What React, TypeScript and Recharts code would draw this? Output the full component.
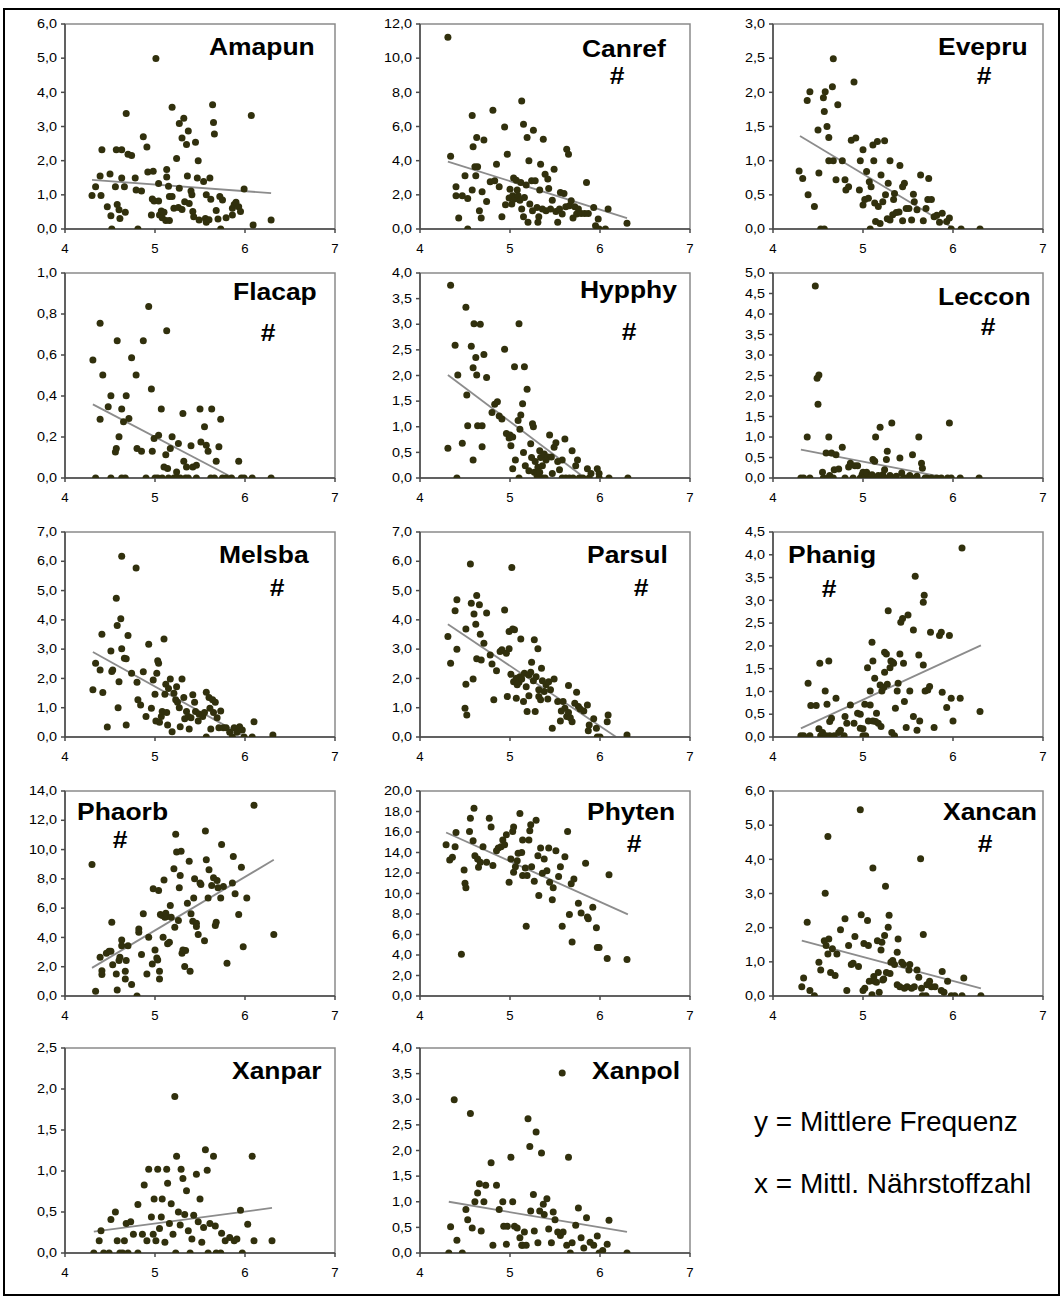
import React from 'react';
import { ScatterChart, Scatter, XAxis, YAxis, ReferenceArea, ReferenceLine } from 'recharts';

const X_TICKS = [4, 5, 6, 7];

// mean frequency (y) against mean nutrient value (x), one list per species
const amapun = [[4.30,0.98],[4.34,1.24],[4.39,1.55],[4.40,0.98],[4.41,2.32],[4.47,0.65],[4.50,1.61],[4.51,0.39],[4.52,0],[4.56,1.24],[4.57,2.32],[4.58,0.72],[4.60,0.56],[4.61,0.31],[4.63,2.32],[4.63,1.49],[4.66,1.24],[4.67,0.49],[4.68,3.38],[4.70,2.19],[4.74,2.15],[4.78,1.49],[4.79,1.14],[4.81,0],[4.85,1.11],[4.87,2.70],[4.91,2.40],[4.92,1.67],[4.96,0.41],[4.97,0.88],[4.98,1.69],[4.99,0.82],[5.01,4.99],[5.04,0.82],[5.04,1.33],[5.05,0.41],[5.07,0.53],[5.08,0.33],[5.10,0.49],[5.12,0.25],[5.13,1.74],[5.13,1.52],[5.15,1.25],[5.16,0.95],[5.16,0.25],[5.19,0.95],[5.19,3.56],[5.21,0.61],[5.24,2.06],[5.26,0.63],[5.27,1.19],[5.27,3.09],[5.30,0.57],[5.30,2.66],[5.32,3.24],[5.33,0.80],[5.35,2.47],[5.36,1.55],[5.37,2.87],[5.38,0.75],[5.40,1.11],[5.41,1.00],[5.42,0.51],[5.43,0.36],[5.45,2.54],[5.47,1.49],[5.48,2.00],[5.49,0.26],[5.54,1.39],[5.56,0.31],[5.57,0.20],[5.57,1.00],[5.60,0.27],[5.61,1.49],[5.62,0.87],[5.64,3.64],[5.65,3.12],[5.66,2.78],[5.68,0.54],[5.70,0.29],[5.72,0.95],[5.73,0],[5.75,0.85],[5.79,0.33],[5.86,0.41],[5.86,0.61],[5.88,0.72],[5.90,0.78],[5.93,0.65],[5.95,0.51],[5.99,1.17],[6.07,3.32],[6.09,0.12],[6.29,0.26]];
const amapunTrend = [[4.30,1.44],[6.29,1.05]];

const canref = [[4.31,11.23],[4.34,4.26],[4.40,2.47],[4.40,1.95],[4.43,0.64],[4.47,1.95],[4.50,3.11],[4.53,1.79],[4.53,0],[4.58,2.28],[4.58,6.65],[4.59,4.81],[4.61,3.64],[4.62,3.11],[4.63,5.35],[4.64,3.64],[4.66,1.07],[4.68,0.64],[4.69,2.18],[4.71,5.21],[4.74,1.61],[4.78,2.76],[4.81,6.95],[4.83,2.82],[4.85,3.79],[4.88,2.47],[4.91,0.72],[4.95,1.42],[4.94,5.97],[4.97,4.38],[4.99,1.81],[5.00,2.33],[5.02,1.46],[5.03,1.95],[5.04,2.98],[5.05,1.75],[5.07,2.86],[5.08,2.28],[5.09,1.95],[5.11,1.69],[5.12,2.72],[5.13,7.49],[5.13,1.17],[5.15,0.72],[5.15,6.13],[5.16,1.85],[5.18,2.57],[5.19,5.35],[5.20,0.39],[5.21,3.99],[5.22,1.46],[5.24,2.82],[5.25,1.07],[5.26,5.78],[5.28,2.82],[5.30,1.26],[5.31,0.39],[5.32,0.72],[5.33,2.28],[5.34,3.79],[5.36,1.17],[5.37,5.25],[5.39,3.21],[5.40,1.07],[5.42,2.92],[5.43,2.37],[5.45,1.17],[5.47,1.69],[5.49,3.50],[5.51,1.03],[5.53,0.39],[5.55,1.17],[5.56,2.14],[5.58,0.88],[5.60,2.08],[5.62,1.30],[5.63,4.67],[5.65,4.38],[5.66,1.36],[5.68,1.65],[5.70,0.64],[5.72,1.30],[5.74,0.88],[5.76,1.17],[5.79,0.91],[5.83,0.91],[5.85,2.72],[5.87,0.91],[5.93,1.26],[5.95,0.19],[5.98,0.58],[5.99,0],[6.06,0],[6.09,1.17],[6.30,0.33]];
const canrefTrend = [[4.31,3.95],[6.30,0.64]];

const evepru = [[4.29,0.85],[4.33,0.74],[4.38,1.88],[4.39,0.50],[4.41,2.01],[4.46,0.33],[4.50,1.45],[4.51,0.82],[4.53,0],[4.56,1.92],[4.57,0],[4.57,1.72],[4.58,2.01],[4.60,1.50],[4.62,1.34],[4.62,1.00],[4.66,2.08],[4.67,2.49],[4.67,1.00],[4.70,0.72],[4.72,1.82],[4.77,1.00],[4.80,0.72],[4.81,0.57],[4.84,0.62],[4.87,1.30],[4.90,2.15],[4.92,1.33],[4.96,0.57],[4.97,1.00],[5.00,1.16],[5.00,0.35],[5.02,0.43],[5.04,0.84],[5.06,0.45],[5.07,0.69],[5.08,0],[5.09,0.62],[5.11,1.23],[5.12,1.00],[5.13,0.38],[5.14,0.11],[5.16,1.28],[5.17,0.33],[5.19,0.08],[5.20,0.79],[5.22,0.40],[5.24,1.29],[5.25,0.50],[5.27,0.15],[5.28,0.67],[5.30,1.00],[5.30,0.13],[5.33,0.21],[5.34,0.43],[5.35,0.52],[5.37,0.24],[5.40,0.25],[5.41,0.93],[5.44,0.62],[5.44,0.12],[5.46,0.67],[5.48,0.30],[5.51,0.30],[5.54,0.13],[5.56,0.51],[5.57,0.40],[5.60,0.28],[5.64,0.79],[5.67,0.12],[5.70,0.30],[5.72,0.43],[5.73,0.74],[5.76,0.43],[5.79,0.18],[5.82,0.20],[5.85,0.10],[5.88,0.23],[5.93,0.11],[5.96,0.16],[5.98,0],[6.09,0],[6.30,0]];
const evepruTrend = [[4.30,1.36],[5.98,0.03]];

const flacap = [[4.31,0.576],[4.34,0],[4.39,0.755],[4.39,0.287],[4.42,0.502],[4.48,0.347],[4.51,0.401],[4.51,0],[4.56,0.127],[4.57,0.144],[4.58,0.669],[4.60,0.201],[4.63,0.336],[4.63,0],[4.65,0.274],[4.67,0],[4.68,0.401],[4.71,0.290],[4.74,0.587],[4.79,0.502],[4.80,0.144],[4.85,0.131],[4.87,0.669],[4.90,0],[4.93,0.837],[4.96,0.434],[4.97,0.131],[4.99,0.193],[5.00,0],[5.03,0],[5.04,0.209],[5.07,0.336],[5.08,0],[5.10,0.054],[5.12,0.114],[5.13,0.718],[5.14,0.046],[5.15,0],[5.17,0.144],[5.19,0.201],[5.21,0],[5.24,0.029],[5.25,0],[5.26,0.168],[5.28,0],[5.31,0.315],[5.32,0.082],[5.34,0],[5.35,0.054],[5.37,0],[5.40,0.157],[5.42,0.054],[5.46,0],[5.46,0.062],[5.50,0.336],[5.51,0.176],[5.55,0.250],[5.57,0.160],[5.59,0.131],[5.62,0],[5.63,0.336],[5.66,0],[5.68,0.082],[5.71,0.152],[5.73,0.287],[5.75,0],[5.79,0],[5.85,0],[5.93,0.082],[5.96,0],[5.99,0],[6.08,0],[6.29,0]];
const flacapTrend = [[4.31,0.359],[5.85,0.005]];

const hypphy = [[4.31,0.58],[4.34,3.76],[4.39,2.59],[4.41,0],[4.42,2.01],[4.47,0.68],[4.51,3.33],[4.52,1.62],[4.53,1.02],[4.57,2.57],[4.59,2.15],[4.59,0.35],[4.60,3.01],[4.62,2.35],[4.63,2.01],[4.64,1.02],[4.67,3.00],[4.69,1.02],[4.69,0.61],[4.71,2.41],[4.74,1.96],[4.80,1.28],[4.83,1.44],[4.86,1.49],[4.88,1.21],[4.91,1.15],[4.94,2.51],[4.96,0.87],[4.99,0.78],[5.00,0.84],[5.01,0.63],[5.03,0.80],[5.03,0.18],[5.05,2.17],[5.06,0.35],[5.09,1.12],[5.10,0],[5.10,3.01],[5.11,0.95],[5.12,1.23],[5.14,1.45],[5.15,0.50],[5.16,2.17],[5.17,0.24],[5.19,1.73],[5.21,0.14],[5.23,0.67],[5.24,0.40],[5.25,1.06],[5.26,1.00],[5.27,0.11],[5.28,0.32],[5.30,0.05],[5.31,0.21],[5.32,0],[5.33,0.53],[5.33,0.11],[5.34,0.40],[5.36,0],[5.36,0.24],[5.38,0.47],[5.39,0],[5.40,0.35],[5.42,0.41],[5.44,0.84],[5.46,0.41],[5.47,0.09],[5.49,0.60],[5.51,0.69],[5.53,0.32],[5.55,0.16],[5.58,0.35],[5.58,0],[5.61,0.76],[5.62,0],[5.66,0],[5.69,0.53],[5.70,0],[5.73,0.24],[5.75,0.35],[5.77,0],[5.81,0],[5.86,0.18],[5.88,0],[5.90,0.09],[5.97,0.18],[5.99,0.09],[5.99,0],[6.10,0],[6.31,0]];
const hypphyTrend = [[4.31,2.01],[5.81,0.03]];

const leccon = [[4.31,0],[4.34,0],[4.38,1.00],[4.41,0],[4.47,4.68],[4.49,2.43],[4.50,1.80],[4.51,2.51],[4.55,0.14],[4.56,0],[4.59,0.61],[4.61,0],[4.62,1.00],[4.63,0.06],[4.65,0.61],[4.67,0],[4.68,0.20],[4.70,0.57],[4.73,0.22],[4.77,0.75],[4.80,0],[4.84,0.27],[4.86,0.36],[4.89,0],[4.91,0.30],[4.94,0.30],[4.97,0],[4.99,0.08],[5.00,0.14],[5.02,0],[5.04,0.14],[5.06,0.06],[5.08,0],[5.10,0.08],[5.11,0.45],[5.13,0.41],[5.14,1.00],[5.16,0],[5.17,0.06],[5.19,1.24],[5.21,0],[5.22,0.08],[5.24,0.20],[5.26,0.45],[5.27,0.65],[5.28,0],[5.30,0.06],[5.32,1.34],[5.34,0],[5.37,0.04],[5.41,0.49],[5.43,0.12],[5.45,0],[5.48,0],[5.52,0.06],[5.55,0.57],[5.58,0],[5.60,0.04],[5.62,1.00],[5.65,0.36],[5.66,0.24],[5.69,0],[5.71,0],[5.76,0],[5.82,0],[5.87,0],[5.94,0],[5.96,1.34],[5.98,0],[6.08,0],[6.29,0]];
const lecconTrend = [[4.31,0.69],[5.85,0.04]];

const melsba = [[4.31,1.61],[4.34,2.52],[4.39,2.29],[4.41,3.51],[4.42,1.52],[4.47,0.34],[4.51,2.94],[4.52,2.24],[4.53,2.29],[4.57,4.74],[4.58,3.81],[4.59,1.00],[4.60,1.89],[4.62,4.04],[4.63,6.17],[4.63,3.01],[4.66,2.69],[4.68,2.67],[4.68,0.41],[4.70,3.47],[4.74,2.18],[4.79,5.77],[4.80,1.87],[4.81,1.27],[4.84,1.09],[4.87,2.23],[4.90,0.70],[4.93,3.17],[4.96,0.98],[4.98,1.95],[5.00,1.46],[5.01,0.55],[5.02,2.18],[5.03,2.60],[5.04,2.52],[5.05,0.50],[5.07,0.70],[5.08,0.87],[5.10,3.35],[5.11,1.46],[5.12,1.80],[5.13,0.84],[5.14,0.41],[5.15,1.66],[5.17,1.98],[5.19,0.18],[5.21,1.49],[5.23,1.27],[5.24,1.72],[5.25,1.19],[5.27,1.00],[5.28,0.35],[5.30,1.98],[5.32,1.35],[5.33,0.62],[5.35,0.87],[5.37,0.70],[5.38,0.27],[5.40,0.66],[5.42,1.44],[5.44,1.19],[5.45,0.87],[5.48,0.55],[5.49,0.78],[5.53,0.70],[5.55,0.84],[5.57,1.53],[5.57,0],[5.60,1.35],[5.61,0.98],[5.62,0.27],[5.64,1.27],[5.65,0.84],[5.67,1.19],[5.69,0.66],[5.71,0.32],[5.73,0.89],[5.76,0.32],[5.79,0.32],[5.83,0.16],[5.86,0],[5.88,0.32],[5.91,0.16],[5.94,0.35],[5.97,0.24],[5.99,0],[6.08,0],[6.10,0.52],[6.31,0.07]];
const melsbaTrend = [[4.31,2.90],[5.99,0.03]];

const parsul = [[4.31,3.43],[4.34,2.52],[4.39,4.31],[4.41,4.69],[4.41,3.00],[4.50,0.98],[4.51,3.69],[4.51,1.80],[4.52,0.75],[4.56,5.91],[4.57,4.57],[4.59,1.98],[4.60,4.20],[4.62,3.85],[4.63,2.67],[4.63,4.83],[4.66,4.52],[4.67,3.51],[4.68,2.63],[4.71,3.20],[4.74,4.23],[4.78,2.80],[4.80,2.49],[4.82,1.27],[4.85,2.26],[4.89,2.92],[4.91,2.98],[4.94,4.34],[4.96,2.86],[4.97,1.38],[4.99,3.60],[4.99,3.01],[5.01,2.14],[5.02,5.79],[5.03,3.69],[5.04,1.89],[5.05,3.66],[5.07,2.01],[5.07,1.32],[5.08,1.78],[5.10,1.87],[5.11,2.06],[5.12,3.35],[5.13,1.98],[5.15,1.21],[5.16,2.18],[5.18,1.72],[5.19,0.87],[5.21,1.41],[5.21,2.12],[5.23,2.21],[5.24,2.55],[5.26,1.92],[5.27,3.32],[5.28,0.87],[5.29,2.06],[5.31,3.01],[5.32,1.61],[5.32,1.38],[5.34,1.27],[5.35,2.35],[5.36,1.92],[5.38,1.55],[5.40,1.78],[5.42,1.30],[5.43,1.89],[5.45,1.61],[5.47,0.30],[5.49,1.98],[5.53,1.21],[5.56,0.55],[5.57,0.89],[5.59,1.21],[5.61,0.98],[5.63,0.70],[5.65,1.76],[5.65,0.84],[5.67,0.66],[5.69,0.52],[5.72,1.15],[5.74,1.53],[5.76,1.04],[5.78,0.96],[5.82,0.89],[5.86,1.09],[5.87,0.21],[5.88,0.41],[5.93,0.62],[5.96,0.30],[5.97,0],[6.00,0],[6.08,0.52],[6.09,0.75],[6.30,0.07]];
const parsulTrend = [[4.31,3.85],[6.18,0]];

const phanig = [[4.31,0.03],[4.34,0.03],[4.39,1.18],[4.41,0.03],[4.42,0.69],[4.48,0.69],[4.51,0.18],[4.52,1.62],[4.53,0.03],[4.55,0.10],[4.58,1.01],[4.59,0.03],[4.60,0.72],[4.62,1.67],[4.63,0.03],[4.63,0.34],[4.65,0.41],[4.68,0.03],[4.70,0.85],[4.73,0.10],[4.75,0.15],[4.79,0.03],[4.80,0.45],[4.82,0.30],[4.86,0.70],[4.90,0.30],[4.94,0.52],[4.97,0.19],[4.97,0.50],[5.00,0.03],[5.00,0.18],[5.02,0.72],[5.03,0.03],[5.05,1.52],[5.06,0.35],[5.08,1.01],[5.08,0.70],[5.10,2.08],[5.11,0.35],[5.11,1.67],[5.13,1.29],[5.14,0.34],[5.15,0.52],[5.17,0.30],[5.19,1.14],[5.20,0.23],[5.21,1.01],[5.23,1.09],[5.24,1.42],[5.24,1.86],[5.26,1.82],[5.27,1.16],[5.28,2.77],[5.30,1.52],[5.31,1.67],[5.32,0.10],[5.33,1.64],[5.34,1.62],[5.35,0.03],[5.36,0.63],[5.38,1.01],[5.39,1.18],[5.41,1.82],[5.42,2.52],[5.44,2.60],[5.45,1.62],[5.46,0.78],[5.48,0.21],[5.50,2.68],[5.52,1.01],[5.56,0.45],[5.56,2.35],[5.58,3.53],[5.60,0.15],[5.62,1.80],[5.63,0.35],[5.67,1.58],[5.67,2.96],[5.68,3.11],[5.69,1.01],[5.72,1.03],[5.74,1.11],[5.75,2.30],[5.79,0.21],[5.85,2.23],[5.87,2.30],[5.88,0.98],[5.93,0.65],[5.96,2.23],[5.98,0.85],[6.00,0.35],[6.08,0.85],[6.10,4.15],[6.30,0.56]];
const phanigTrend = [[4.31,0.19],[6.31,2.01]];

const phaorb = [[4.30,8.98],[4.34,0.32],[4.39,2.64],[4.41,1.73],[4.41,1.46],[4.46,2.92],[4.49,3.06],[4.51,3.06],[4.52,5.04],[4.53,2.14],[4.57,1.50],[4.58,0.41],[4.60,2.42],[4.61,2.64],[4.63,3.83],[4.63,3.44],[4.67,1.16],[4.67,1.69],[4.68,2.42],[4.70,3.44],[4.74,0.78],[4.80,0],[4.82,4.35],[4.82,4.58],[4.85,2.83],[4.87,5.61],[4.91,1.50],[4.93,4.01],[4.97,2.19],[4.98,7.32],[5.00,3.15],[5.02,2.60],[5.03,2.46],[5.04,7.20],[5.05,1.16],[5.05,1.69],[5.06,5.56],[5.08,5.49],[5.09,4.01],[5.10,7.93],[5.11,5.38],[5.12,5.65],[5.13,5.43],[5.14,3.56],[5.16,3.67],[5.17,6.18],[5.18,5.38],[5.21,8.69],[5.22,4.70],[5.23,11.04],[5.24,9.83],[5.26,5.15],[5.27,7.39],[5.28,8.23],[5.29,9.89],[5.30,2.92],[5.31,3.15],[5.33,2.01],[5.34,3.10],[5.36,6.34],[5.38,9.21],[5.39,1.69],[5.40,5.61],[5.42,5.11],[5.43,6.70],[5.44,8.00],[5.46,4.97],[5.46,4.74],[5.48,4.20],[5.50,7.71],[5.51,7.62],[5.55,3.78],[5.56,11.26],[5.57,9.30],[5.59,6.70],[5.60,8.62],[5.63,7.55],[5.65,8.07],[5.67,4.81],[5.68,5.04],[5.69,7.89],[5.70,7.39],[5.73,6.70],[5.74,10.35],[5.76,7.48],[5.80,2.23],[5.86,7.71],[5.87,9.53],[5.89,6.98],[5.93,5.56],[5.96,8.80],[5.98,3.37],[6.02,6.70],[6.10,13.02],[6.32,4.20]];
const phaorbTrend = [[4.30,1.92],[6.32,9.30]];

const phyten = [[4.29,14.76],[4.33,13.27],[4.36,13.53],[4.39,14.56],[4.40,15.95],[4.46,4.08],[4.49,12.30],[4.50,11.00],[4.51,10.55],[4.55,16.05],[4.56,17.35],[4.59,15.15],[4.60,18.32],[4.61,13.69],[4.64,13.37],[4.65,12.56],[4.67,13.04],[4.70,14.56],[4.74,13.04],[4.77,17.35],[4.79,16.50],[4.81,12.72],[4.85,14.17],[4.87,14.43],[4.90,14.56],[4.92,15.21],[4.94,14.76],[4.96,15.73],[4.99,11.10],[5.01,13.37],[5.03,16.05],[5.04,16.50],[5.04,12.07],[5.06,12.62],[5.08,13.20],[5.09,13.92],[5.11,17.80],[5.13,14.01],[5.14,15.21],[5.14,11.75],[5.17,12.49],[5.18,6.80],[5.19,11.75],[5.21,15.21],[5.22,16.12],[5.23,16.70],[5.24,12.62],[5.27,11.20],[5.29,17.15],[5.31,13.69],[5.32,9.81],[5.34,14.43],[5.36,11.97],[5.38,13.37],[5.41,12.23],[5.43,14.43],[5.44,11.10],[5.47,9.39],[5.48,10.55],[5.51,14.17],[5.54,11.65],[5.56,12.62],[5.58,6.80],[5.61,13.59],[5.64,16.05],[5.66,7.96],[5.68,10.94],[5.69,5.28],[5.71,11.42],[5.76,9.06],[5.79,8.09],[5.84,12.94],[5.86,7.70],[5.87,7.54],[5.92,8.67],[5.96,6.67],[5.97,4.72],[5.99,4.72],[6.08,3.66],[6.10,11.84],[6.30,3.56]];
const phytenTrend = [[4.29,15.95],[6.31,7.96]];

const xancan = [[4.32,0.27],[4.34,0.53],[4.38,2.16],[4.41,0.16],[4.46,0.01],[4.51,0.99],[4.53,0.76],[4.57,1.62],[4.58,3.01],[4.59,1.48],[4.61,1.23],[4.61,4.67],[4.62,1.67],[4.64,0.69],[4.66,1.38],[4.69,0.60],[4.71,1.23],[4.75,1.94],[4.80,2.26],[4.82,0.16],[4.84,1.48],[4.87,0.92],[4.89,0.96],[4.91,1.74],[4.95,0.86],[4.97,5.45],[4.98,2.38],[5.00,0.16],[5.01,1.54],[5.02,0.23],[5.05,2.21],[5.06,1.48],[5.07,0.43],[5.10,0.04],[5.11,3.75],[5.12,0.57],[5.13,0.43],[5.15,0.40],[5.16,1.62],[5.17,0.69],[5.18,0.11],[5.20,1.35],[5.21,1.57],[5.22,0.47],[5.23,0.50],[5.24,1.77],[5.25,3.21],[5.26,0.69],[5.28,2.01],[5.29,2.36],[5.30,0.66],[5.31,0.99],[5.33,1.04],[5.35,0.92],[5.38,1.28],[5.38,0.33],[5.39,1.67],[5.41,0.27],[5.43,0.99],[5.45,0.92],[5.46,0.23],[5.49,0.27],[5.51,0.76],[5.52,0.92],[5.54,0.23],[5.57,0.27],[5.60,0.76],[5.62,0.55],[5.64,4.02],[5.65,0.23],[5.66,0.01],[5.67,1.80],[5.70,0.01],[5.71,0.33],[5.74,0.43],[5.76,0.27],[5.80,0.27],[5.87,0.16],[5.88,0.72],[5.90,0.11],[5.94,0.43],[5.98,0.01],[6.02,0.01],[6.10,0.01],[6.12,0.53],[6.31,0.01]];
const xancanTrend = [[4.32,1.62],[6.31,0.22]];

const xanpar = [[4.32,0],[4.38,0.15],[4.40,0.27],[4.43,0],[4.49,0],[4.51,0.41],[4.56,0.50],[4.58,0.15],[4.61,0],[4.64,0],[4.66,0.15],[4.68,0.36],[4.70,0],[4.73,0.38],[4.76,0.23],[4.81,0.59],[4.81,0],[4.86,0.23],[4.88,0.83],[4.91,0.15],[4.93,1.02],[4.96,0.44],[4.98,0.23],[4.99,0.66],[5.01,0.15],[5.03,1.02],[5.05,0.30],[5.07,0.44],[5.08,0.66],[5.11,0.13],[5.13,1.02],[5.14,0.85],[5.16,0.36],[5.18,0.60],[5.20,0.23],[5.22,1.91],[5.23,0],[5.24,1.18],[5.26,0.50],[5.28,0.34],[5.29,1.02],[5.31,0.91],[5.33,0.47],[5.35,0.76],[5.37,0.27],[5.39,0],[5.41,0.17],[5.43,0.46],[5.46,0.96],[5.48,0.38],[5.50,0.66],[5.52,0.13],[5.54,0.31],[5.56,1.26],[5.58,1.01],[5.59,0],[5.61,0.36],[5.65,1.18],[5.67,0.33],[5.68,0],[5.73,0],[5.74,0.24],[5.78,0.15],[5.83,0.19],[5.88,0.15],[5.91,0.17],[5.95,0.52],[5.97,0],[6.03,0.35],[6.08,1.18],[6.10,0.15],[6.30,0.15]];
const xanparTrend = [[4.32,0.26],[6.30,0.55]];

const xanpol = [[4.32,0],[4.34,0.51],[4.38,2.99],[4.41,0.25],[4.47,0],[4.51,0.85],[4.53,0.65],[4.56,2.72],[4.58,0.49],[4.61,1.00],[4.64,1.17],[4.66,1.35],[4.68,0.43],[4.71,1.00],[4.73,1.32],[4.79,1.76],[4.81,0.15],[4.85,1.32],[4.88,0.85],[4.92,1.00],[4.93,0.52],[4.96,0.17],[4.97,0.52],[5.01,1.87],[5.03,1.00],[5.05,0.52],[5.08,0.49],[5.11,0.30],[5.13,0.15],[5.14,0.15],[5.16,0.41],[5.18,0.15],[5.20,2.62],[5.22,2.08],[5.23,0.82],[5.26,1.14],[5.27,0.43],[5.29,2.36],[5.31,0.20],[5.33,0.82],[5.35,1.95],[5.37,0.95],[5.38,0.75],[5.41,1.06],[5.43,0.47],[5.46,0.20],[5.48,0.80],[5.50,0.65],[5.53,0.41],[5.56,0.34],[5.58,3.51],[5.59,0.41],[5.63,0.15],[5.65,1.87],[5.67,0],[5.69,0.20],[5.73,0.54],[5.76,0.88],[5.79,0.30],[5.82,0.10],[5.85,0.69],[5.89,0.21],[5.93,0.15],[5.97,0.33],[5.99,0],[6.03,0.05],[6.08,0.17],[6.10,0.64],[6.30,0]];
const xanpolTrend = [[4.32,1.00],[6.30,0.41]];

const Y_TICKS = {
  amapun: [0, 1, 2, 3, 4, 5, 6],
  canref: [0, 2, 4, 6, 8, 10, 12],
  evepru: [0, 0.5, 1, 1.5, 2, 2.5, 3],
  flacap: [0, 0.2, 0.4, 0.6, 0.8, 1],
  hypphy: [0, 0.5, 1, 1.5, 2, 2.5, 3, 3.5, 4],
  leccon: [0, 0.5, 1, 1.5, 2, 2.5, 3, 3.5, 4, 4.5, 5],
  melsba: [0, 1, 2, 3, 4, 5, 6, 7],
  parsul: [0, 1, 2, 3, 4, 5, 6, 7],
  phanig: [0, 0.5, 1, 1.5, 2, 2.5, 3, 3.5, 4, 4.5],
  phaorb: [0, 2, 4, 6, 8, 10, 12, 14],
  phyten: [0, 2, 4, 6, 8, 10, 12, 14, 16, 18, 20],
  xancan: [0, 1, 2, 3, 4, 5, 6],
  xanpar: [0, 0.5, 1, 1.5, 2, 2.5],
  xanpol: [0, 0.5, 1, 1.5, 2, 2.5, 3, 3.5, 4],
};

const COL = [65, 420, 773];
const ROW = [24, 273, 532, 791, 1048];
const PW = 270;
const PH = 205;

// title: name, left x / baseline y; hash: centre x / baseline y (page px)
const PANELS = [
  { name: 'Amapun', pts: amapun, trend: amapunTrend, ticks: Y_TICKS.amapun, c: 0, r: 0, t: [209, 55], h: null },
  { name: 'Canref', pts: canref, trend: canrefTrend, ticks: Y_TICKS.canref, c: 1, r: 0, t: [582, 57], h: [617, 84] },
  { name: 'Evepru', pts: evepru, trend: evepruTrend, ticks: Y_TICKS.evepru, c: 2, r: 0, t: [938, 55], h: [984, 84] },
  { name: 'Flacap', pts: flacap, trend: flacapTrend, ticks: Y_TICKS.flacap, c: 0, r: 1, t: [233, 300], h: [268, 341] },
  { name: 'Hypphy', pts: hypphy, trend: hypphyTrend, ticks: Y_TICKS.hypphy, c: 1, r: 1, t: [580, 298], h: [629, 340] },
  { name: 'Leccon', pts: leccon, trend: lecconTrend, ticks: Y_TICKS.leccon, c: 2, r: 1, t: [938, 305], h: [988, 335] },
  { name: 'Melsba', pts: melsba, trend: melsbaTrend, ticks: Y_TICKS.melsba, c: 0, r: 2, t: [219, 563], h: [277, 596] },
  { name: 'Parsul', pts: parsul, trend: parsulTrend, ticks: Y_TICKS.parsul, c: 1, r: 2, t: [587, 563], h: [641, 596] },
  { name: 'Phanig', pts: phanig, trend: phanigTrend, ticks: Y_TICKS.phanig, c: 2, r: 2, t: [788, 563], h: [829, 597] },
  { name: 'Phaorb', pts: phaorb, trend: phaorbTrend, ticks: Y_TICKS.phaorb, c: 0, r: 3, t: [77, 820], h: [120, 848] },
  { name: 'Phyten', pts: phyten, trend: phytenTrend, ticks: Y_TICKS.phyten, c: 1, r: 3, t: [587, 820], h: [634, 852] },
  { name: 'Xancan', pts: xancan, trend: xancanTrend, ticks: Y_TICKS.xancan, c: 2, r: 3, t: [943, 820], h: [985, 852] },
  { name: 'Xanpar', pts: xanpar, trend: xanparTrend, ticks: Y_TICKS.xanpar, c: 0, r: 4, t: [232, 1079], h: null },
  { name: 'Xanpol', pts: xanpol, trend: xanpolTrend, ticks: Y_TICKS.xanpol, c: 1, r: 4, t: [592, 1079], h: null },
];

const FONT = 'Arial, "Liberation Sans", sans-serif';
const DOT = '#31300d';
const fmt = (v: number) => v.toFixed(1).replace('.', ',');

const Dot = (p: any) => <circle cx={p.cx} cy={p.cy} r={3.5} fill={DOT} />;

const YTick = (p: any) => (
  <g transform={`translate(${p.x},${p.y}) scale(1.2,1)`}>
    <text x={0} y={0} dy="0.35em" textAnchor="end" fontSize={12} fontFamily={FONT} fill="#000">{fmt(p.payload.value)}</text>
  </g>
);

const XTick = (p: any) => (
  <g transform={`translate(${p.x},${p.y}) scale(1.1,1)`}>
    <text x={0} y={0} dy="0.71em" textAnchor="middle" fontSize={12} fontFamily={FONT} fill="#000">{p.payload.value}</text>
  </g>
);

function Panel({ p }: { p: any }) {
  const yMax = p.ticks[p.ticks.length - 1];
  const data = p.pts.map(([x, y]: number[]) => ({ x, y }));
  const [a, b] = p.trend;
  return (
    <div style={{ position: 'absolute', left: COL[p.c] - 60, top: ROW[p.r] - 10 }}>
      <ScatterChart width={PW + 70} height={PH + 40} margin={{ top: 10, right: 10, bottom: 0, left: 0 }}>
        <ReferenceArea x1={4} x2={7} y1={0} y2={yMax} fill="none" stroke="#8a8a8a" strokeWidth={1.5} fillOpacity={0} ifOverflow="visible" />
        <XAxis type="number" dataKey="x" domain={[4, 7]} ticks={X_TICKS} interval={0} allowDataOverflow height={30}
          stroke="#4a4a4a" strokeWidth={1.5} tickSize={4} tickMargin={11} tick={XTick} />
        <YAxis type="number" dataKey="y" domain={[0, yMax]} ticks={p.ticks} interval={0} allowDataOverflow width={60}
          stroke="#4a4a4a" strokeWidth={1.5} tickSize={4} tickMargin={4} tick={YTick} />
        <ReferenceLine segment={[{ x: a[0], y: a[1] }, { x: b[0], y: b[1] }]} stroke="#8c8c8c" strokeWidth={1.8} ifOverflow="visible" />
        <Scatter data={data} shape={Dot} isAnimationActive={false} />
      </ScatterChart>
    </div>
  );
}

export default function App() {
  return (
    <div style={{ position: 'absolute', left: 0, top: 0, width: 1064, height: 1297, background: '#fff', overflow: 'hidden' }}>
      <div style={{ position: 'absolute', left: 3, top: 8, width: 1057, height: 1288, border: '2.5px solid #000', boxSizing: 'border-box' }} />
      {PANELS.map((p) => <Panel key={p.name} p={p} />)}
      <svg width={1064} height={1297} style={{ position: 'absolute', left: 0, top: 0, pointerEvents: 'none' }}>
        {PANELS.map((p) => (
          <g key={p.name} fontFamily={FONT} fontWeight="bold" fill="#000">
            <g transform={`translate(${p.t[0]},${p.t[1]}) scale(1.15,1)`}>
              <text x={0} y={0} fontSize={23}>{p.name}</text>
            </g>
            {p.h && (
              <g transform={`translate(${p.h[0]},${p.h[1]}) scale(1.15,1)`}>
                <text x={0} y={0} fontSize={23} textAnchor="middle">#</text>
              </g>
            )}
          </g>
        ))}
        <text x={754} y={1131} fontSize={28} fontFamily={FONT} fill="#000">y = Mittlere Frequenz</text>
        <text x={754} y={1193} fontSize={28} fontFamily={FONT} fill="#000">x = Mittl. Nährstoffzahl</text>
      </svg>
    </div>
  );
}
